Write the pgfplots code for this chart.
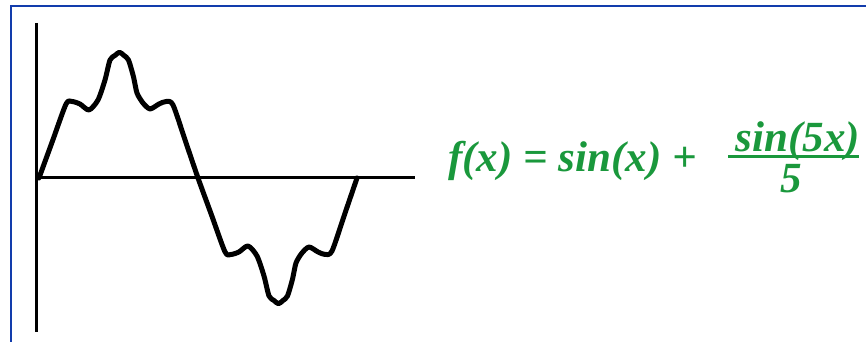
\documentclass[border=0pt]{standalone}
\usepackage{pgfplots}
\pgfplotsset{compat=1.18}
\usepackage{fontspec}
\setmainfont{Liberation Serif}
\definecolor{framecol}{RGB}{18,60,172}
\definecolor{eqgreen}{RGB}{26,152,60}

% sketched waveform sin(x) + sin(5x)/5, x in degrees over one period
\pgfplotstableread{
x y
0 0
15.3 0.354
30.6 0.707
37.4 0.731
46.4 0.707
56.6 0.650
66.8 0.746
74.7 0.937
80.4 1.128
86.0 1.171
91.1 1.202
96.2 1.171
101.3 1.128
107.0 0.966
110.9 0.813
117.7 0.717
125.7 0.660
135.8 0.707
143.8 0.731
151.7 0.698
165.9 0.349
180 0
195.3 -0.354
210.6 -0.707
217.4 -0.731
226.4 -0.707
236.6 -0.650
246.8 -0.746
254.7 -0.937
260.4 -1.128
266.0 -1.171
271.1 -1.202
276.2 -1.171
281.3 -1.128
287.0 -0.966
290.9 -0.813
297.7 -0.717
305.7 -0.660
315.8 -0.707
323.8 -0.731
331.7 -0.698
345.9 -0.349
360 0
}\wavetable

\begin{document}
\begin{tikzpicture}
\useasboundingbox (0,0) rectangle (866pt,342pt);
\begin{axis}[
  scale only axis,
  width=866pt, height=342pt,
  xmin=-44.15, xmax=936.2,
  ymin=-1.5679, ymax=1.7017,
  hide axis,
  clip=false,
]
  % axes
  \addplot[black, line width=3pt] coordinates {(-2.8,1.482) (-2.8,-1.472)};
  \addplot[black, line width=3pt] coordinates {(-2.8,0) (425.7,0)};
  % waveform
  \addplot[black, line width=5pt, smooth, tension=0.45, line join=round, line cap=round]
    table[x=x, y=y] {\wavetable};
\end{axis}
% frame
\draw[framecol, line width=2.5pt] (11pt,0pt) -- (11pt,336pt) -- (866pt,336pt);
% equation
\begin{scope}[every node/.style={inner sep=0pt, text=eqgreen,
    font=\fontsize{43}{50}\selectfont\bfseries\itshape}]
  \node[anchor=base west] at (448pt,170pt) {f(x) = sin(x) +};
  \node[anchor=base] at (798pt,190pt) {sin(5x)};
  \node[anchor=base] at (791pt,149pt) {5};
\end{scope}
\draw[eqgreen, line width=3.5pt] (728pt,185.5pt) -- (859pt,185.5pt);
\end{tikzpicture}
\end{document}
